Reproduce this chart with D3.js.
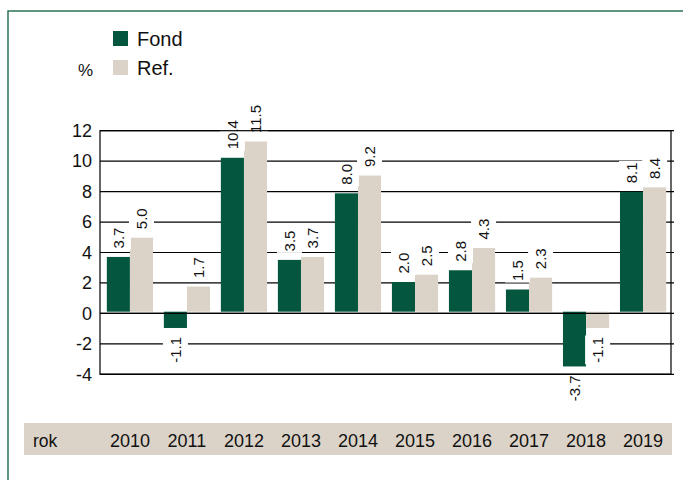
<!DOCTYPE html>
<html>
  <head>
    <meta charset="utf-8">
    <script src="https://d3js.org/d3.v7.min.js"></script>
      <style>
        body { margin:0; background:#fff; }
        text { font-family: "Liberation Sans", Arial, sans-serif; }
      </style>
  </head>
  <body>
      <script>
            // chart data
            let years = ["2010","2011","2012","2013","2014","2015","2016","2017","2018","2019"];
            let fond = [3.7, -1.1, 10.4, 3.5, 8.0, 2.0, 2.8, 1.5, -3.7, 8.1];
            let ref = [5.0, 1.7, 11.5, 3.7, 9.2, 2.5, 4.3, 2.3, -1.1, 8.4];
            let yTicks = [-4, -2, 0, 2, 4, 6, 8, 10, 12];
            let seriesNames = ["Fond", "Ref."];
            let colors = ["#04573e", "#dbd3c8"];

            let width = 683; let height = 480;
            let plotL = 100, plotR = 671, plotT = 130.7, plotB = 374.3;

            let svg = d3.select("body").append("svg")
                .attr("width", width).attr("height", height);

            // green outer frame (open to the right and bottom)
            svg.append("rect").attr("x", 8).attr("y", 11)
                .attr("width", 700).attr("height", 500)
                .attr("fill", "none").attr("stroke", "#1f6a48").attr("stroke-width", 1.4);

            let y = d3.scaleLinear().domain([-4, 12]).range([plotB, plotT]);
            // the bars in the original are drawn a touch shorter than the axis grid
            let yBar = d3.scaleLinear().domain([0, 10]).range([311.7, 163.7]);
            let x = d3.scaleBand().domain(years).range([plotL, plotR + 2])
                        .paddingInner(0.19).paddingOuter(0.12);
            let x1 = d3.scaleBand().domain([0, 1]).range([0, x.bandwidth()]);

            // grid lines
            svg.append("g").selectAll("line").data(yTicks).enter().append("line")
                .attr("x1", plotL).attr("x2", plotR + 3)
                .attr("y1", d => y(d)).attr("y2", d => y(d))
                .attr("stroke", "#000").attr("stroke-width", 1.2);

            // y axis labels
            let yAxis = d3.axisLeft(y).tickValues(yTicks).tickSize(0).tickPadding(8)
                          .tickFormat(d => String(d));
            let ga = svg.append("g").attr("transform", "translate(" + plotL + ",0)").call(yAxis);
            ga.select(".domain").remove();
            ga.selectAll("text").attr("font-size", "18px").attr("fill", "#111")
                .attr("font-family", "Liberation Sans, Arial, sans-serif");

            // bars
            let rows = years.map((yr, i) => ({year: yr, vals: [fond[i], ref[i]]}));
            let groups = svg.append("g").selectAll("g").data(rows).enter().append("g")
                .attr("transform", d => "translate(" + x(d.year) + ",0)");
            groups.selectAll("rect").data(d => d.vals).enter().append("rect")
                .attr("x", (d, i) => x1(i))
                .attr("width", x1.bandwidth())
                .attr("y", d => d >= 0 ? yBar(d) : yBar(0))
                .attr("height", d => Math.abs(yBar(d) - yBar(0)))
                .attr("fill", (d, i) => colors[i]);

            // zero line and plot frame on top
            svg.append("line").attr("x1", plotL).attr("x2", plotR)
                .attr("y1", y(0)).attr("y2", y(0)).attr("stroke", "#000").attr("stroke-width", 1.2);
            svg.append("rect").attr("x", plotL).attr("y", plotT)
                .attr("width", plotR - plotL).attr("height", plotB - plotT)
                .attr("fill", "none").attr("stroke", "#000").attr("stroke-width", 1.2);

            // value labels, rotated, with white box behind
            groups.each(function(d) {
                let g = d3.select(this);
                d.vals.forEach(function(v, i) {
                    let cx = x1(i) + x1.bandwidth() / 2;
                    let ty = v >= 0 ? yBar(v) - 8.5 : yBar(v) + 9;
                    let lab = g.append("g").attr("transform", "translate(" + cx + "," + ty + ") rotate(-90)");
                    let t = lab.append("text").text(v.toFixed(1))
                        .attr("font-size", "15px").attr("fill", "#111")
                        .attr("dominant-baseline", "central")
                        .attr("text-anchor", v >= 0 ? "start" : "end");
                    let bb = t.node().getBBox();
                    lab.insert("rect", "text").attr("x", bb.x - 1.5).attr("y", bb.y - 4)
                        .attr("width", bb.width + 3).attr("height", bb.height + 8)
                        .attr("fill", "#fff");
                });
            });

            // bottom frame edge stays visible under low labels
            svg.append("line").attr("x1", plotL).attr("x2", plotR)
                .attr("y1", plotB).attr("y2", plotB).attr("stroke", "#000").attr("stroke-width", 1.2);

            // legend
            let legend = svg.append("g");
            seriesNames.forEach(function(name, i) {
                legend.append("rect").attr("x", 113).attr("y", 31 + i * 29)
                    .attr("width", 15).attr("height", 15).attr("fill", colors[i]);
                legend.append("text").attr("x", 137).attr("y", 46 + i * 29)
                    .attr("font-size", "20px").attr("fill", "#111").text(name);
            });
            svg.append("text").attr("x", 78).attr("y", 76)
                .attr("font-size", "17px").attr("fill", "#111").text("%");

            // category strip
            svg.append("rect").attr("x", 24).attr("y", 423)
                .attr("width", 648).attr("height", 32).attr("fill", colors[1]);
            svg.append("text").attr("x", 33).attr("y", 447)
                .attr("font-size", "17.5px").attr("fill", "#111").text("rok");
            svg.append("g").selectAll("text").data(years).enter().append("text")
                .attr("x", d => x(d) + x.bandwidth() / 2).attr("y", 447)
                .attr("text-anchor", "middle")
                .attr("font-size", "18px").attr("fill", "#111").text(d => d);
      </script>
  </body>
</html>
